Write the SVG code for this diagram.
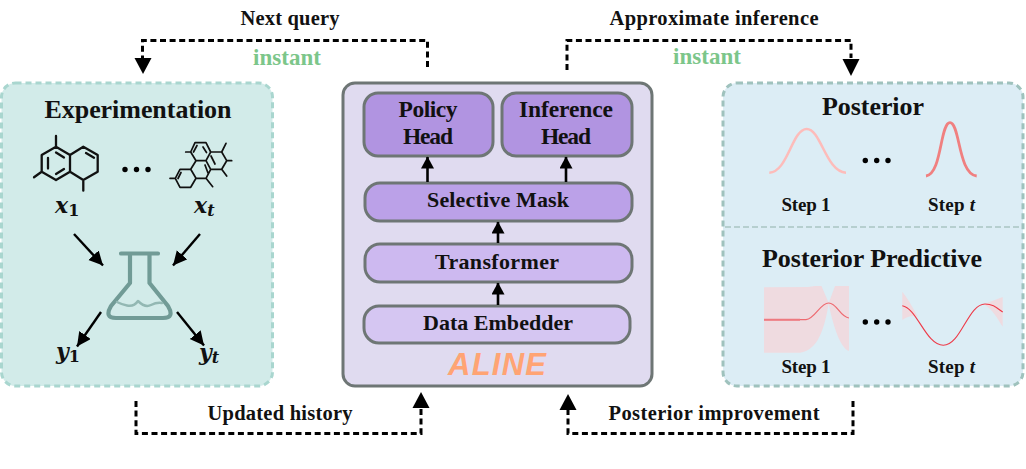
<svg xmlns="http://www.w3.org/2000/svg" width="1026" height="469" viewBox="0 0 1026 469">
<style>
text{font-family:"Liberation Serif","DejaVu Serif",serif;font-weight:700;fill:#111;text-anchor:middle}
.t{font-size:26px}.m{font-size:23.500px}.l{font-size:22px}.s{font-size:20.500px}.st{font-size:19px}.g{font-size:23px;fill:#7CC68A}
.math{font-family:"DejaVu Serif",serif;font-style:italic;font-size:22px;text-anchor:start}
.sub{font-family:"DejaVu Serif",serif;font-size:16px;font-style:normal}
.box{stroke:#6E7675;stroke-width:3}
.dash{fill:none;stroke:#000;stroke-width:3;stroke-dasharray:6 3.6}
.ar{fill:none;stroke:#000;stroke-width:2.6}
.mol{fill:none;stroke:#111;stroke-linecap:round;stroke-linejoin:round}
.dot{fill:#000}
</style>
<defs>
<marker id="head" markerUnits="userSpaceOnUse" markerWidth="18" markerHeight="18" refX="14" refY="7" orient="auto"><path d="M0 0L14 7L0 14L0 0Z" fill="#000"/></marker>
<marker id="head2" markerUnits="userSpaceOnUse" markerWidth="16" markerHeight="16" refX="11.5" refY="6.5" orient="auto"><path d="M0 0L12 6.5L0 13Z" fill="#000"/></marker>
</defs>

<g id="experimentation">
<rect x="1.500" y="83" width="271" height="303" rx="14" fill="#D2EBE9" stroke="#A9D6CF" stroke-width="3" stroke-dasharray="6 4"/>
<text class="t" x="138" y="118" textLength="187">Experimentation</text>
<g class="mol" stroke-width="2.300">
<path d="M56 146.700L41.700 155V171.700L56 180L70 171.700V155ZM70 155L83.300 146.700L97.700 155V171.700L83.300 180L70 171.700M56 146.700V136M41.700 171.700L34 177.300M83.300 180V190.700M48 158V168.500M56 174L64 169M56 152.500L64 157.500M86 153L94 157.700"/>
</g>
<g class="mol" stroke-width="1.700">
<path d="M195 142.700H206L210.700 152L206 160.700H196L190.700 152ZM190.700 152H185.700M210.700 152H221.700L226.700 160.700L221.700 169.300H210.700L206 160.700M221.700 152L226 143.300M226.700 160.700H231.700M221.700 169.300L226.700 176M210.700 169.300L206 178.300H196L190.700 169.300L196 160.700M190.700 169.300L196 178.300L190.700 187.300H180L175.300 178.300L180 169.300H190.700M175.300 178.300H170M206 178.300L212.700 186.700M197 145.500L193.500 152M203 147L206.500 152.500M181 172.500L178 178.500M211 156L215 164M205 165L208 173"/>
</g>
<circle class="dot" cx="125" cy="169.500" r="2.700"/><circle class="dot" cx="136.500" cy="169.500" r="2.700"/><circle class="dot" cx="148" cy="169.500" r="2.700"/>
<text class="math" x="55" y="213">x<tspan class="sub" dy="3">1</tspan></text>
<text class="math" x="194" y="213">x<tspan class="sub" dy="3" style="font-style:italic">t</tspan></text>
<text class="math" x="56" y="359">y<tspan class="sub" dy="3">1</tspan></text>
<text class="math" x="199" y="360">y<tspan class="sub" dy="3" style="font-style:italic">t</tspan></text>
<g id="flask" fill="none" stroke="#719B96" stroke-linecap="round" stroke-linejoin="round">
<path stroke-width="4.200" d="M121 253.500H158M130 253.500V283L111 306Q104 318 116 318H163Q175 318 168 306L149.500 283V253.500"/>
<path stroke="#93B8B3" stroke-width="2.500" d="M117 302Q123 305 127 305.500Q134 307 138 301Q145 308 151 305Q157 302 162 303"/>
</g>
<g class="ar" style="stroke-width:2.400">
<path d="M74 234L103 265.500" marker-end="url(#head)"/>
<path d="M200 234L173 265.500" marker-end="url(#head)"/>
<path d="M101 312L77 346.500" marker-end="url(#head)"/>
<path d="M177 312L204 345.500" marker-end="url(#head)"/>
</g>
</g>

<g id="aline">
<rect x="343" y="83" width="309" height="303" rx="12" fill="#E0DBF0" class="box"/>
<text x="497" y="375" style="font-family:'Liberation Sans',sans-serif;font-style:italic;font-size:31px;fill:#FFA474" textLength="98">ALINE</text>
</g>
<g id="policy-head"><rect class="box" x="364" y="93" width="129" height="63" rx="14" fill="#B194E1"/><text class="m" x="428" y="117" textLength="59">Policy</text><text class="m" x="428" y="144" textLength="50">Head</text></g>
<g id="inference-head"><rect class="box" x="502" y="93" width="130" height="63" rx="14" fill="#B194E1"/><text class="m" x="566" y="117" textLength="94">Inference</text><text class="m" x="566" y="144" textLength="50">Head</text></g>
<g id="selective-mask"><rect class="box" x="365" y="183" width="267" height="38" rx="15" fill="#BBA1E8"/><text class="l" x="498" y="207" textLength="142">Selective Mask</text></g>
<g id="transformer"><rect class="box" x="365" y="244" width="267" height="38" rx="15" fill="#CDB9F0"/><text class="l" x="497" y="269" textLength="124">Transformer</text></g>
<g id="data-embedder"><rect class="box" x="364" y="306" width="266" height="37" rx="15" fill="#D5C6F2"/><text class="l" x="498" y="330" textLength="150">Data Embedder</text></g>

<g id="results">
<rect x="723" y="83" width="300" height="303" rx="14" fill="#DCEDF5" stroke="#9FC2BD" stroke-width="3" stroke-dasharray="6 4"/>
<path d="M725 227H1021" stroke="#B6CFCF" stroke-width="2" stroke-dasharray="6 3"/>
<text class="t" x="873" y="115" textLength="102">Posterior</text>
<path d="M769.300 172.700C788 172 792 129 806.700 129C821 129 826 172 846 172.700" fill="none" stroke="#FDBCBA" stroke-width="2.500"/>
<path d="M926 176C942 174 940 122.700 950 122.700C960 122.700 958 174 976.700 176" fill="none" stroke="#F08080" stroke-width="2.800"/>
<circle class="dot" cx="865.300" cy="160.500" r="2.700"/><circle class="dot" cx="876.700" cy="160.500" r="2.700"/><circle class="dot" cx="888" cy="160.500" r="2.700"/>
<text class="st" x="806" y="211" textLength="49">Step 1</text>
<text class="st" x="951.500" y="211" textLength="47">Step <tspan font-style="italic">t</tspan></text>
<text class="t" x="872" y="267" textLength="220">Posterior Predictive</text>
<path d="M764 287.300L808 287L815 286H821.500L828.700 303L835 286H849V351C840 348 833 325 828.700 304C824 330 818 350 800 352.700H764Z" fill="#EFDBE0"/>
<path d="M764 319.700H806C815 319 820 303 828.700 303C837 303 840 317 849 318" fill="none" stroke="#EE6A70" stroke-width="1.200"/>
<path d="M764 319.700H800" fill="none" stroke="#EE7A80" stroke-width="2"/>
<circle class="dot" cx="865.300" cy="322" r="2.700"/><circle class="dot" cx="876.700" cy="322" r="2.700"/><circle class="dot" cx="888" cy="322" r="2.700"/>
<path d="M902.300 291.700C908 299 912 306 918 317C914 315 908 316 902.300 320ZM983 304.500L1002.700 297V326.700C997 318 993 310 985 305Z" fill="#EFDBE0"/>
<path d="M902.300 305.700C917 308 926 345.300 943.300 345.300C961 345.300 968 304 985 304C993 304 997 308 1002.700 312" fill="none" stroke="#EE3A48" stroke-width="1.100"/>
<text class="st" x="806" y="373" textLength="49">Step 1</text>
<text class="st" x="951.500" y="373" textLength="47">Step <tspan font-style="italic">t</tspan></text>
</g>

<g id="connectors">
<path class="dash" d="M427.500 67V40.500H142.500V58"/>
<path d="M134.500 58H151.500L143 74Z"/>
<path class="dash" d="M567 70V40.500H851V58"/>
<path d="M842.500 59H859.500L851 76Z"/>
<path class="dash" d="M136 401V433.500H421V408"/>
<path d="M412.500 408H429.500L421 392Z"/>
<path class="dash" d="M853 401V433.500H568V410"/>
<path d="M559.500 410H576.500L568 394Z"/>
<path class="ar" d="M427.500 182V157" marker-end="url(#head2)"/>
<path class="ar" d="M566 182V157" marker-end="url(#head2)"/>
<path class="ar" d="M498 243V222" marker-end="url(#head2)"/>
<path class="ar" d="M498 305V283" marker-end="url(#head2)"/>
</g>

<g id="labels">
<text class="s" x="290" y="25" textLength="99">Next query</text>
<text class="g" x="287" y="65" textLength="68">instant</text>
<text class="s" x="714" y="25" textLength="209">Approximate inference</text>
<text class="g" x="707" y="64" textLength="68">instant</text>
<text class="s" x="280" y="420" textLength="145">Updated history</text>
<text class="s" x="714" y="420" textLength="211">Posterior improvement</text>
</g>
</svg>
